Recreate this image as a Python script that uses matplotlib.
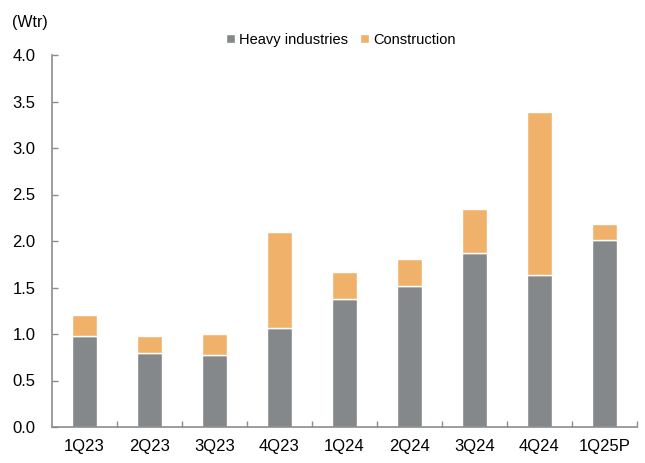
import numpy as np
import matplotlib.pyplot as plt
from matplotlib.ticker import MultipleLocator, FixedLocator

plt.rcParams['font.family'] = ['Liberation Sans', 'DejaVu Sans']

quarters = ['1Q23', '2Q23', '3Q23', '4Q23', '1Q24', '2Q24', '3Q24', '4Q24', '1Q25P']
heavy = [0.98, 0.80, 0.77, 1.06, 1.38, 1.52, 1.87, 1.63, 2.01]
construction = [0.22, 0.18, 0.23, 1.04, 0.29, 0.29, 0.47, 1.76, 0.17]

gray = '#85888a'
orange = '#f0b26b'
axis_col = '#8c8c8c'

fig = plt.figure(figsize=(6.45, 4.63), dpi=100)
ax = fig.add_axes([52 / 645, 1 - 427 / 463, 585 / 645, 372 / 463])

x = np.arange(len(quarters))
ax.bar(x, heavy, width=0.38, color=gray, edgecolor='white', linewidth=1.0,
       label='Heavy industries')
ax.bar(x, construction, width=0.38, bottom=heavy, color=orange,
       edgecolor='white', linewidth=1.0, label='Construction')

ax.set_xlim(-0.5, len(quarters) - 0.5)
ax.set_ylim(0, 4.0)
ax.yaxis.set_major_locator(MultipleLocator(0.5))
ax.yaxis.set_major_formatter(plt.FuncFormatter(lambda v, p: f'{v:.1f}'))

ax.set_xticks(x)
ax.set_xticklabels(quarters)
ax.xaxis.set_minor_locator(FixedLocator(np.arange(0.5, len(quarters), 1.0)))
ax.tick_params(axis='x', which='major', length=0, pad=9, labelsize=12, colors='black')
ax.tick_params(axis='x', which='minor', direction='in', length=4, color=axis_col, width=1)
ax.tick_params(axis='y', direction='in', length=4, color=axis_col, width=1,
               pad=12, labelsize=12)

for s in ['top', 'right']:
    ax.spines[s].set_visible(False)
for s in ['left', 'bottom']:
    ax.spines[s].set_color(axis_col)
    ax.spines[s].set_linewidth(1.2)

fig.text(12 / 645, 1 - 22 / 463, '(Wtr)', fontsize=11.5, va='center', ha='left')

ax.legend(loc='center', bbox_to_anchor=(341 / 645, 1 - 40 / 463),
          bbox_transform=fig.transFigure, ncol=2, frameon=False, fontsize=10.5,
          handlelength=0.6, handleheight=0.6, handletextpad=0.3, columnspacing=0.8)

fig.savefig('out.png', dpi=100)
